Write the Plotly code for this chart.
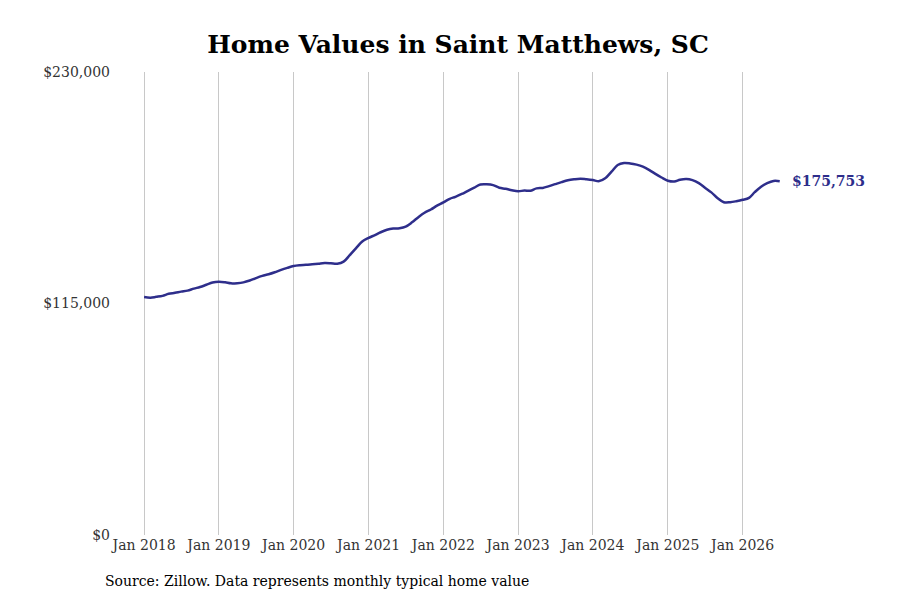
import plotly.graph_objects as go
import pandas as pd

# monthly typical home value, thousands of dollars (Jan 2018 - Jul 2026)
values_k = [
    118.2, 117.9, 118.3, 118.8, 119.8, 120.3, 120.9, 121.4, 122.4, 123.2, 124.3, 125.4,
    125.8, 125.5, 125.0, 125.1, 125.5, 126.4, 127.6, 128.7, 129.5, 130.5, 131.7, 132.7,
    133.6, 134.0, 134.2, 134.5, 134.8, 135.1, 135.0, 134.8, 135.8, 139.0, 142.5, 145.8,
    147.6, 149.0, 150.4, 151.6, 152.2, 152.4, 153.2, 155.3, 157.9, 160.1, 161.7, 163.6,
    165.2, 167.0, 168.0, 169.4, 171.0, 172.6, 174.1, 174.2, 173.8, 172.5, 172.0, 171.3,
    170.8, 171.1, 171.0, 172.2, 172.4, 173.3, 174.3, 175.3, 176.2, 176.7, 177.0, 176.7,
    176.3, 175.8, 177.2, 180.5, 183.8, 184.8, 184.6, 184.0, 183.0, 181.4, 179.4, 177.6,
    176.0, 175.6, 176.5, 176.9, 176.3, 174.8, 172.5, 170.2, 167.3, 165.3, 165.3, 165.8,
    166.5, 167.5, 170.3, 173.0, 174.8, 175.9, 175.753,
]
dates = pd.date_range("2018-01-01", periods=len(values_k), freq="MS")
values = [v * 1000 for v in values_k]

tick_dates = pd.date_range("2018-01-01", "2026-01-01", freq="YS")
tick_labels = [f"Jan {d.year}" for d in tick_dates]
y_ticks = [0, 115000, 230000]
y_labels = ["$0", "$115,000", "$230,000"]

color = "#2e2e8b"
font = "DejaVu Serif"

fig = go.Figure()
fig.add_trace(go.Scatter(x=dates, y=values, mode="lines",
                         line=dict(color=color, width=2.5, shape="spline"),
                         hovertemplate="%{x|%b %Y}: $%{y:,.0f}<extra></extra>"))
fig.add_annotation(x=dates[-1], y=values[-1], text=f"<b>${values[-1]:,.0f}</b>",
                   xanchor="left", xshift=10, showarrow=False,
                   font=dict(family=font, size=14, color=color))

fig.update_layout(
    title=dict(text="<b>Home Values in Saint Matthews, SC</b>", x=0.5, y=0.94,
               xanchor="center", yanchor="middle",
               font=dict(family=font, size=25, color="black")),
    width=900, height=600,
    plot_bgcolor="white", paper_bgcolor="white",
    margin=dict(l=116, r=66, t=64, b=73),
    showlegend=False,
    font=dict(family=font, size=14, color="#333"),
)
fig.update_xaxes(tickvals=tick_dates, ticktext=tick_labels, showgrid=True,
                 gridcolor="#c8c8c8", gridwidth=1, zeroline=False, showline=False,
                 range=[pd.Timestamp("2017-09-25"), pd.Timestamp("2027-05-01")])
fig.update_yaxes(tickvals=y_ticks, ticktext=y_labels, range=[0, 230000],
                 showgrid=False, zeroline=False, showline=False, ticklabelstandoff=13)
fig.add_annotation(text="Source: Zillow. Data represents monthly typical home value",
                   xref="paper", yref="paper", x=-0.029, y=-0.12, xanchor="left",
                   showarrow=False, font=dict(family=font, size=14, color="black"))

fig.write_html("out.html")
